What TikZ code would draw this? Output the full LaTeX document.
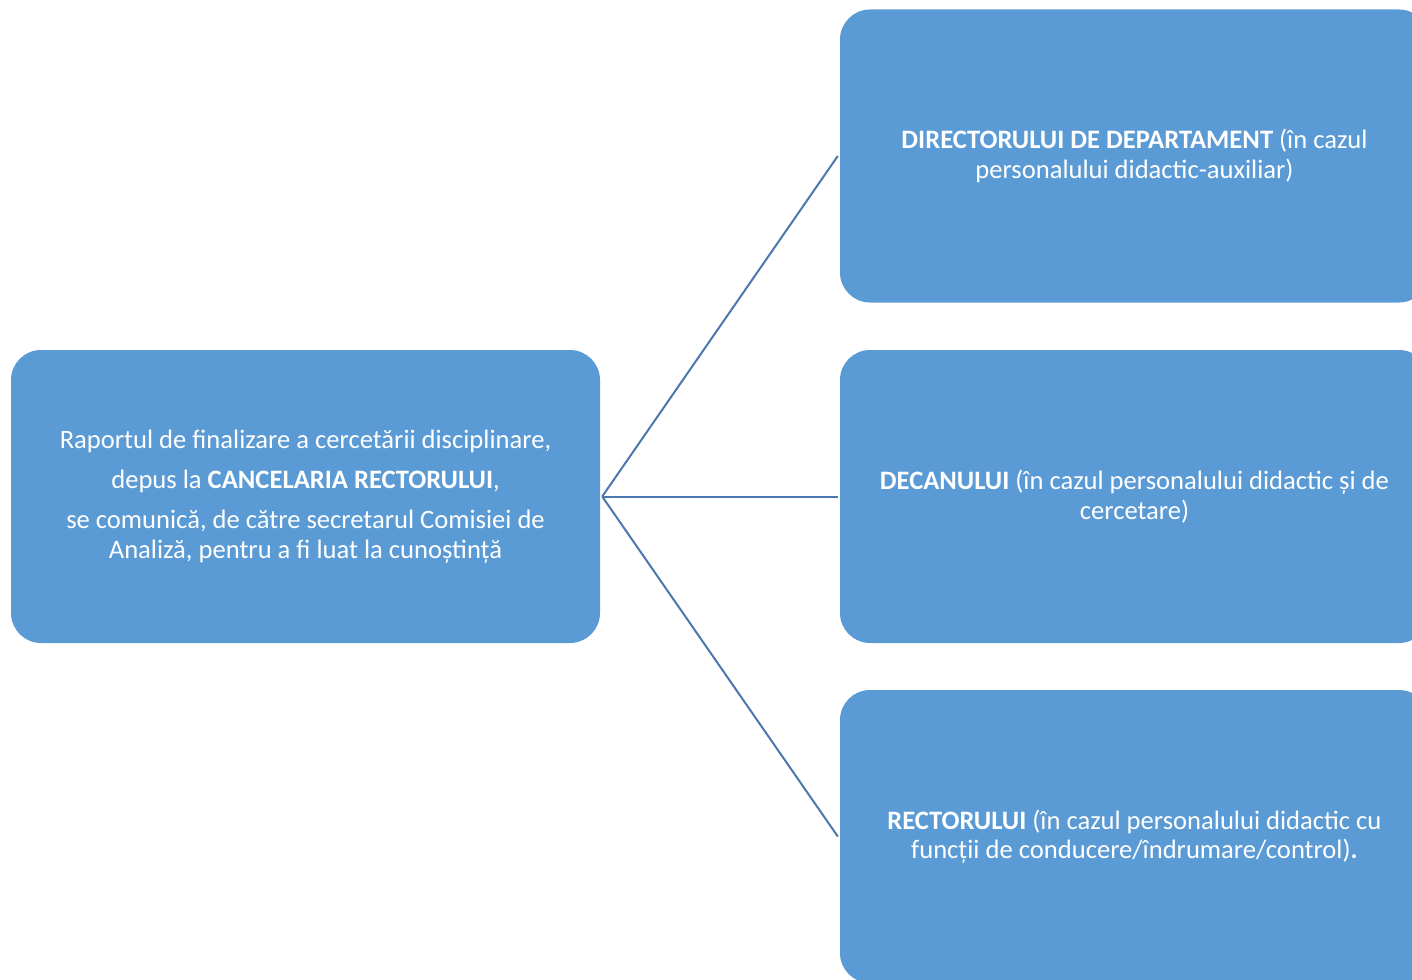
\documentclass[tikz,border=0pt]{standalone}
\usepackage{fontspec}
\setmainfont{Carlito}
\definecolor{boxblue}{HTML}{5B9BD5}
\definecolor{lineblue}{HTML}{4A78AE}
\begin{document}
\begin{tikzpicture}[x=1pt,y=-1pt,
	box/.style={fill=boxblue,rounded corners=30pt,minimum width=589pt,minimum height=293pt,
		text=white,align=center,font=\fontsize{26.6}{29.5}\selectfont,inner sep=0pt},
	link/.style={draw=lineblue,line width=2pt}]
	\useasboundingbox (0,0) rectangle (1412,979);
	\clip (0,0) rectangle (1412,979);
	\node[box] (raport) at (305.5,496.5) {Raportul de finalizare a cercetării disciplinare,\\[10.5pt]
		depus la \textbf{CANCELARIA RECTORULUI},\\[10.5pt]
		se comunică, de către secretarul Comisiei de\\
		Analiză, pentru a fi luat la cunoștință};
	\node[box] (director) at (1134.5,156) {\textbf{DIRECTORULUI DE DEPARTAMENT} (în cazul\\
		personalului didactic-auxiliar)};
	\node[box] (decan) at (1134.5,496.5) {\textbf{DECANULUI} (în cazul personalului didactic și de\\
		cercetare)};
	\node[box] (rector) at (1134.5,836.5) {\textbf{RECTORULUI} (în cazul personalului didactic cu\\
		funcții de conducere/îndrumare/control)\textbf{.}};
	\draw[link] ([xshift=2pt]raport.east) -- ([xshift=-2pt]director.west);
	\draw[link] ([xshift=2pt]raport.east) -- ([xshift=-2pt]decan.west);
	\draw[link] ([xshift=2pt]raport.east) -- ([xshift=-2pt]rector.west);
\end{tikzpicture}
\end{document}
